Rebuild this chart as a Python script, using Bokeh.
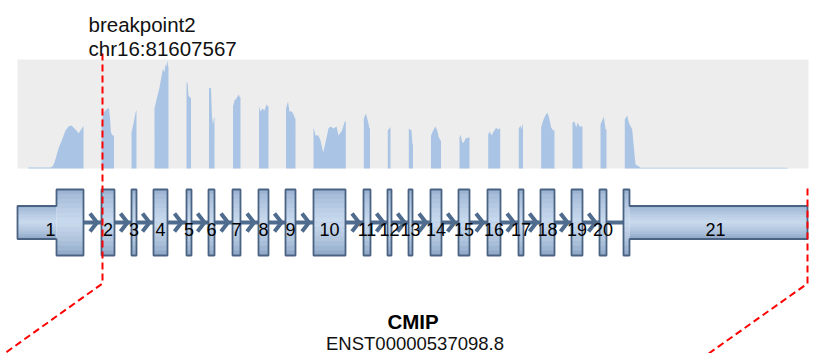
from bokeh.plotting import figure
from bokeh.models import Range1d
from bokeh.core.properties import value
from bokeh.embed import file_html
from bokeh.resources import INLINE

# ---------------- data ----------------
exon_labels = [str(i) for i in range(1, 22)]
exon_start = [17, 101, 131, 153, 186, 208, 232, 258, 285, 313, 363, 387, 408, 430, 458, 487, 518, 540, 571, 599, 623]
exon_end = [83, 114, 136, 167, 191, 214, 240, 268, 295, 345, 370, 391, 412, 441, 469, 500, 523, 554, 582, 606, 807]
coding_start = 56
coding_end = 629

breakpoint_x = 102
breakpoint_label = ["breakpoint2", "chr16:81607567"]
gene_name = "CMIP"
transcript_id = "ENST00000537098.8"

cov_x = [28, 28, 50, 52, 54, 56, 58, 60, 62, 65, 68, 71, 73, 76, 78, 80, 82, 83, 83,
         101, 101, 103, 105, 107, 108.5, 109.5, 110.5, 112, 113.5, 113.5,
         131, 131, 133, 135.5, 136, 136,
         154, 154, 156.5, 159, 161, 162.5, 164, 165, 166, 167, 168, 168,
         186, 186, 187, 188, 190.5, 190.5,
         208.5, 208.5, 210.5, 211.5, 212.5, 213.5, 214, 214,
         232.5, 232.5, 234, 236, 238, 239.5, 240, 240,
         258.5, 258.5, 260, 262, 264, 266, 267.5, 268, 268,
         285.5, 285.5, 287.5, 289, 291.5, 293.5, 294.5, 295, 295,
         313, 313, 315, 318, 320, 322.7, 325, 328, 330, 333, 336, 338, 341.5, 344.3, 345.3, 345.3,
         363.3, 363.3, 365.5, 367.5, 369, 369.5, 369.5,
         387.3, 387.3, 389.5, 390, 390,
         408.3, 408.3, 411, 412, 412.5, 412.5,
         430.5, 430.5, 432.7, 435, 436.7, 438.3, 440, 440.5, 440.5,
         459, 459, 460, 461.7, 463.3, 465, 468.3, 469, 469,
         487.7, 487.7, 489.3, 491, 493.3, 495.7, 497.3, 499.3, 499.7, 499.7,
         518.3, 518.3, 520, 521, 522, 522.5, 522.5,
         540.7, 540.7, 542.3, 544.3, 546.7, 548.3, 550.7, 552.7, 554, 554,
         572, 572, 574, 575.7, 577.3, 579, 581.7, 582, 582,
         600, 600, 601.7, 603.3, 605, 606, 606,
         624.3, 624.3, 626.7, 628.3, 631.7, 633.3, 635, 638.3, 640, 787, 787]
cov_y = [0, 1, 1, 2, 6, 13, 20, 25, 30, 38, 42, 43, 41, 38, 35, 38, 41, 43, 0,
         0, 45, 56, 58, 60, 60, 50, 36, 33, 33, 0,
         0, 36, 45, 58, 58, 0,
         0, 60, 71, 81, 92, 100, 96, 104, 102, 108, 100, 0,
         0, 86, 86, 73, 70, 0,
         0, 81, 80, 52, 44, 51, 51, 0,
         0, 62, 68, 70, 74, 71, 71, 0,
         0, 62, 57, 60, 58, 64, 62, 62, 0,
         0, 60, 67, 57, 57, 53, 50, 50, 0,
         0, 41, 33, 33, 28, 16, 26, 40, 42, 40, 42, 33, 38, 47, 47, 0,
         0, 50, 55, 47, 40, 40, 0,
         0, 38, 41, 41, 0,
         0, 40, 38, 24, 24, 0,
         0, 33, 38, 42, 38, 31, 28, 28, 0,
         0, 31, 34, 26, 26, 30, 31, 31, 0,
         0, 34, 37, 33, 37, 41, 39, 40, 40, 0,
         0, 40, 43, 39, 44, 44, 0,
         0, 41, 47, 52, 56, 52, 41, 38, 38, 0,
         0, 46, 47, 41, 46, 42, 42, 42, 0,
         0, 44, 48, 52, 39, 39, 0,
         0, 49, 53, 46, 39, 22, 4, 2, 0.7, 0.7, 0]
cov_max = 109

# ---------------- layout / style ----------------
W, H = 815, 353
GENE_Y = 222
CDS_HALF = 33
UTR_HALF = 16.5
COV_TOP, COV_BOTTOM = 59, 168
PANEL_LEFT, PANEL_RIGHT = 17, 808

EXON_EDGE_TOP = (0x95, 0xAE, 0xCE)
EXON_MID = (0xC9, 0xDA, 0xEE)
EXON_EDGE_BOT = (0x8A, 0xA3, 0xC3)
EXON_BORDER = "#4a6383"
INTRON_COLOR = "#4f6c8f"
COV_COLOR = "#a9c4e4"
PANEL_BG = "#ededed"
RED = "#ff0000"
FONT = value("Liberation Sans")

p = figure(width=W, height=H, output_backend="svg", toolbar_location=None,
           x_range=Range1d(0, W), y_range=Range1d(H, 0),
           min_border=0, x_axis_location=None, y_axis_location=None)
p.grid.visible = False
p.outline_line_color = None
p.background_fill_color = "white"
p.border_fill_color = "white"

# coverage range: 0 at COV_BOTTOM, cov_max at COV_TOP, 1 unit per pixel
a = -(H - COV_BOTTOM)
p.extra_y_ranges = {"cov": Range1d(a, a + H)}

# coverage panel background
p.quad(left=[PANEL_LEFT], right=[PANEL_RIGHT], bottom=[0], top=[cov_max],
       y_range_name="cov", fill_color=PANEL_BG, line_color=None)
p.varea(x=cov_x, y1=[0] * len(cov_x), y2=cov_y, y_range_name="cov",
        fill_color=COV_COLOR)

# intron line
p.line(x=[exon_end[0], exon_start[-1]], y=[GENE_Y, GENE_Y],
       line_color=INTRON_COLOR, line_width=4)

# chevrons (strand direction), in the introns
chev_xs, chev_ys = [], []
for i in range(len(exon_start) - 2):
    mid = (exon_end[i] + exon_start[i + 1]) / 2.0
    tip = mid + 4.5
    chev_xs.append([tip - 7, tip, tip - 7])
    chev_ys.append([GENE_Y - 9, GENE_Y, GENE_Y + 9])
p.multi_line(xs=chev_xs, ys=chev_ys, line_color=INTRON_COLOR, line_width=4,
             line_join="miter")


def mix(c1, c2, t):
    return "#%02x%02x%02x" % tuple(int(round(c1[k] + (c2[k] - c1[k]) * t)) for k in range(3))


def band_color(t):
    # t in [0,1] top->bottom
    if t < 0.5:
        s = t / 0.5
        return mix(EXON_EDGE_TOP, EXON_MID, s ** 0.7)
    s = (1 - t) / 0.5
    return mix(EXON_EDGE_BOT, EXON_MID, s ** 0.7)


ql, qr, qt, qb, qc = [], [], [], [], []
out_xs, out_ys = [], []
NB = 14
for s, e in zip(exon_start, exon_end):
    if s < coding_start < e:
        parts = [(s, coding_start, UTR_HALF), (coding_start, e, CDS_HALF)]
        ox = [s, coding_start, coding_start, e, e, coding_start, coding_start, s]
        oy = [GENE_Y - UTR_HALF, GENE_Y - UTR_HALF, GENE_Y - CDS_HALF, GENE_Y - CDS_HALF,
              GENE_Y + CDS_HALF, GENE_Y + CDS_HALF, GENE_Y + UTR_HALF, GENE_Y + UTR_HALF]
    elif s < coding_end < e:
        parts = [(s, coding_end, CDS_HALF), (coding_end, e, UTR_HALF)]
        ox = [s, coding_end, coding_end, e, e, coding_end, coding_end, s]
        oy = [GENE_Y - CDS_HALF, GENE_Y - CDS_HALF, GENE_Y - UTR_HALF, GENE_Y - UTR_HALF,
              GENE_Y + UTR_HALF, GENE_Y + UTR_HALF, GENE_Y + CDS_HALF, GENE_Y + CDS_HALF]
    else:
        parts = [(s, e, CDS_HALF)]
        ox = [s, e, e, s]
        oy = [GENE_Y - CDS_HALF, GENE_Y - CDS_HALF, GENE_Y + CDS_HALF, GENE_Y + CDS_HALF]
    for (l, r, h) in parts:
        top = GENE_Y - h
        step = 2 * h / NB
        for k in range(NB):
            ql.append(l)
            qr.append(r)
            qt.append(top + k * step - 0.3)
            qb.append(top + (k + 1) * step + 0.3)
            qc.append(band_color((k + 0.5) / NB))
    out_xs.append(ox)
    out_ys.append(oy)

p.quad(left=ql, right=qr, top=qt, bottom=qb, fill_color=qc, line_color=None)
p.patches(xs=out_xs, ys=out_ys, fill_color=None, line_color=EXON_BORDER,
          line_width=1.8)

# exon numbers
centers = [(s + e) / 2.0 for s, e in zip(exon_start, exon_end)]
p.text(x=centers, y=[GENE_Y + 6.8] * len(centers), text=exon_labels,
       text_font=FONT, text_font_size="18px", text_align="center",
       text_baseline="alphabetic", text_color="#000000")

# breakpoint dashed lines
p.line(x=[breakpoint_x, breakpoint_x, breakpoint_x - 105],
       y=[53, 283, 358], line_color=RED, line_width=2, line_dash="7 4")
p.line(x=[exon_end[-1], exon_end[-1], exon_end[-1] - 103],
       y=[GENE_Y - CDS_HALF - 1, 283, 356], line_color=RED, line_width=2, line_dash="7 4")

# breakpoint label
p.text(x=[88, 88], y=[24, 48], text=breakpoint_label, text_font=FONT,
       text_font_size="20.5px", text_align="left", text_baseline="alphabetic",
       text_color="#111111")

# gene name / transcript
mid_x = (PANEL_LEFT + PANEL_RIGHT) / 2.0
p.text(x=[mid_x], y=[321], text=[gene_name], text_font=FONT,
       text_font_size="20.5px", text_font_style="bold", text_align="center",
       text_baseline="alphabetic", text_color="#000000")
p.text(x=[mid_x + 2], y=[343], text=[transcript_id], text_font=FONT,
       text_font_size="18.5px", text_align="center", text_baseline="alphabetic",
       text_color="#111111")

open("out.html", "w").write(file_html(p, INLINE))
